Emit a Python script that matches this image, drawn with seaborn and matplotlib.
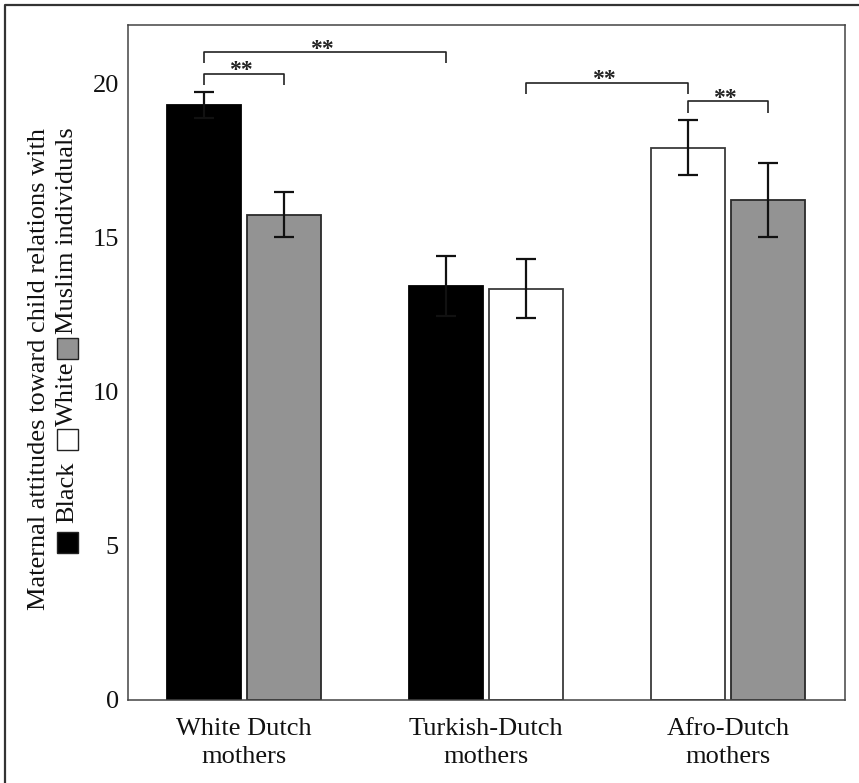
"""
Maternal attitudes toward child relations, grouped bars with brackets.
"""

import matplotlib
matplotlib.use('Agg')
import matplotlib.pyplot as plt
from matplotlib.lines import Line2D
from matplotlib.patches import Rectangle
import pandas as pd
import seaborn as sns

# data
groups = ['White Dutch\nmothers', 'Turkish-Dutch\nmothers', 'Afro-Dutch\nmothers']
left_target = ['Black', 'Black', 'White']
right_target = ['Muslim', 'White', 'Muslim']
left_mean = [19.30, 13.42, 17.92]
right_mean = [15.75, 13.35, 16.22]
left_err = [0.42, 0.97, 0.90]
right_err = [0.74, 0.95, 1.20]

# significance brackets: (group a, slot a, group b, slot b, line height, leg bottom)
brackets = [(0, 0, 0, 1, 20.32, 19.94),
            (0, 0, 1, 0, 21.03, 20.67),
            (1, 1, 2, 0, 20.03, 19.66),
            (2, 0, 2, 1, 19.43, 19.05)]

fill = {'Black': '#000000', 'White': '#ffffff', 'Muslim': '#939393'}
edge = {'Black': '#000000', 'White': '#3a3a3a', 'Muslim': '#2a2a2a'}


def attitudePlot():
    df = pd.DataFrame({
        'group': groups * 2,
        'slot': ['left'] * 3 + ['right'] * 3,
        'target': left_target + right_target,
        'value': left_mean + right_mean,
        'err': left_err + right_err,
    })

    sns.set_theme(style='white')
    plt.rcParams['font.family'] = ['Liberation Serif', 'DejaVu Serif']
    plt.rcParams['text.color'] = '#111111'

    W, H = 859, 783
    f = plt.figure(figsize=(W / 100, H / 100), dpi=100)
    ax = f.add_axes([128 / W, (H - 700) / H, 717 / W, 675 / H])

    sns.barplot(data=df, x='group', y='value', hue='slot', order=groups, hue_order=['left', 'right'],
                width=0.66, gap=0.073, dodge=True, legend=False, ax=ax)

    # recolour bars by stimulus category and collect centres
    centres = {}
    for si, cont in enumerate(ax.containers[:2]):
        sub = df[df['slot'] == ['left', 'right'][si]].reset_index(drop=True)
        for gi, bar in enumerate(cont):
            t = sub.loc[gi, 'target']
            bar.set_facecolor(fill[t])
            bar.set_edgecolor(edge[t])
            bar.set_linewidth(1.3)
            cx = bar.get_x() + bar.get_width() / 2
            centres[(gi, si)] = cx
            ax.errorbar(cx, sub.loc[gi, 'value'], yerr=sub.loc[gi, 'err'], fmt='none',
                        ecolor='#111111', elinewidth=1.6, capsize=7, capthick=1.6, zorder=5)

    for ga, sa, gb, sb, yl, yb in brackets:
        xa, xb = centres[(ga, sa)], centres[(gb, sb)]
        ax.plot([xa, xa, xb, xb], [yb, yl, yl, yb], color='#222222', lw=1.2, solid_capstyle='butt',
                clip_on=False)
        ax.annotate('**', xy=((xa + xb) / 2 - 0.015, yl), xytext=(0, -2), textcoords='offset points',
                    ha='center', va='baseline', fontsize=17, fontweight='bold', color='#222222')

    ax.set_xlim(-0.48, 2.483)
    ax.set_ylim(0, 21.9)
    ax.set_yticks([0, 5, 10, 15, 20])
    ax.set_xlabel('')
    ax.set_ylabel('')
    ax.tick_params(axis='both', length=0, labelsize=19, colors='#111111')
    ax.tick_params(axis='x', pad=13)
    ax.tick_params(axis='y', pad=6.5)
    for lab in ax.get_xticklabels():
        lab.set_linespacing(1.35)
    for s in ax.spines.values():
        s.set_color('#444444')
        s.set_linewidth(1.1)
        s.set_visible(True)

    # outer frame (only top and left edges are inside the picture)
    f.add_artist(Line2D([5 / W, 5 / W, 1.0], [0.0, 1 - 5 / H, 1 - 5 / H], transform=f.transFigure,
                        color='#333333', lw=1.6))

    # two line y label with inline colour keys
    f.text(39 / W, 1 - 128 / H, 'Maternal attitudes toward child relations with', rotation=90,
           ha='center', va='top', fontsize=19)

    f.canvas.draw()
    rend = f.canvas.get_renderer()
    x2 = 67
    y = H - 553
    pieces = [('box', 'Black', 9), ('text', 'Black', 12), ('box', 'White', 3), ('text', 'White', 2),
              ('box', 'Muslim', 4), ('text', 'Muslim individuals', 0)]
    for kind, val, gapAfter in pieces:
        if kind == 'box':
            s = 21
            f.add_artist(Rectangle(((x2 - s / 2) / W, y / H), s / W, s / H, transform=f.transFigure,
                                   facecolor=fill[val], edgecolor='#222222', lw=1.0))
            y += s + gapAfter
        else:
            t = f.text(x2 / W, y / H, val, rotation=90, ha='center', va='bottom', fontsize=19)
            bb = t.get_window_extent(rend)
            y += bb.height + gapAfter

    f.savefig('out.png', dpi=100)


if __name__ == '__main__':
    attitudePlot()
